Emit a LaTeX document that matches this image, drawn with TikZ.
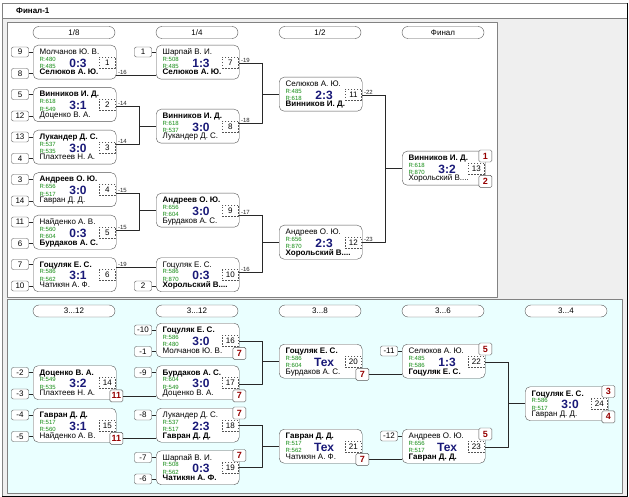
\documentclass[tikz,border=0pt]{standalone}
\usepackage{fontspec}
\setmainfont{Liberation Sans}
\usetikzlibrary{calc,positioning}
\definecolor{bordc}{RGB}{85,85,85}
\definecolor{framec}{RGB}{130,130,130}
\definecolor{linec}{RGB}{40,40,40}
\definecolor{bgc}{RGB}{239,239,239}
\definecolor{cyanc}{RGB}{234,255,255}
\definecolor{rtgc}{RGB}{20,140,20}
\definecolor{navyc}{RGB}{25,25,120}
\definecolor{redc}{RGB}{150,0,0}
% match box: number, x, y, top player, bottom player, two ratings, score
\newcommand\mtch[8]{%
  \node[mbox] (m#1) at (#2,#3) {};
  \node[pname] (m#1a) at ($(m#1.north west)+(6.5,9.5)$) {#4};
  \node[rtg] (m#1r) at ($(m#1.north west)+(6.5,14)$) {R:#6};
  \node[rtg] (m#1s) at ($(m#1.north west)+(6.5,21.5)$) {R:#7};
  \node[score] (m#1c) at ($(m#1.north west)+(45,18)$) {#8};
  \node[pname] (m#1b) at ($(m#1.north west)+(6.5,30)$) {#5};
  \node[numbox] (n#1) at ($(m#1.north east)+(-9,17.5)$) {#1};}
% seeds at the left of a box
\newcommand\seedt[2]{%
  \node[seed] (s#1t) at ($(m#1.north west)+(-13,7)$) {#2};
  \draw[conn] (s#1t.east) -- (s#1t.east -| m#1.west);}
\newcommand\seedb[2]{%
  \node[seed] (s#1b) at ($(m#1.north west)+(-13,28.5)$) {#2};
  \draw[conn] (s#1b.east) -- (s#1b.east -| m#1.west);}
% places at the right of a box
\newcommand\plct[2]{\node[plc] (p#1t) at ($(m#1.north east)+(0,5)$) {#2};}
\newcommand\plcb[2]{\node[plc] (p#1b) at ($(m#1.south east)+(0,-4)$) {#2};}
% two boxes into the next one
\newcommand\fork[5]{%
  \draw[conn] ($(m#1.north east)+(0,#2)$) -- ++(23,0) |- ($(m#3.north east)+(0,#4)$);
  \draw[conn] ($(m#1.north east)+(23,#2)$) |- (m#5.west);}
\begin{document}
\begin{tikzpicture}[x=1pt,y=-1pt,line join=round,
  mbox/.style={draw=bordc,fill=white,rounded corners=5pt,minimum width=83pt,minimum height=34pt,anchor=north west,inner sep=0pt},
  pname/.style={anchor=base west,inner sep=0pt,font=\fontsize{8}{8}\selectfont},
  rtg/.style={anchor=west,inner sep=0pt,text=rtgc,font=\fontsize{6}{6}\selectfont},
  score/.style={inner sep=0pt,text=navyc,font=\fontsize{12}{12}\selectfont\bfseries},
  numbox/.style={draw=bordc,dashed,dash pattern=on 1.5pt off 1.5pt,fill=white,minimum width=16pt,minimum height=11pt,inner sep=0pt,font=\fontsize{8}{8}\selectfont},
  seed/.style={draw=bordc,fill=white,rounded corners=2pt,minimum width=17pt,minimum height=10pt,inner sep=0pt,font=\fontsize{8}{8}\selectfont},
  plc/.style={draw=bordc,fill=white,rounded corners=1.5pt,minimum width=13pt,minimum height=12pt,inner sep=0pt,text=redc,font=\fontsize{9}{9}\selectfont\bfseries},
  pill/.style={draw=bordc,fill=white,rounded corners=6pt,minimum width=82pt,minimum height=12pt,inner sep=0pt,font=\fontsize{8}{8}\selectfont},
  conn/.style={draw=linec,line width=0.7pt},
  outc/.style={anchor=south west,inner sep=0.5pt,text=linec,font=\fontsize{6}{6}\selectfont}]
\useasboundingbox (0,0) rectangle (629,497);
% frame
\fill[bgc] (2,3) rectangle (627,496);
\fill[white] (2,3) rectangle (627,18);
\draw[framec] (2,18) -- (627,18);
\draw[framec] (2,496) -- (2,3) -- (627,3);
\draw[black] (627,3) -- (627,496) -- (2,496);
\node[anchor=west,inner sep=0pt,font=\fontsize{8}{8}\selectfont\bfseries] (ttl) at (16,11) {Финал-1};
\draw[framec,fill=white] (7,22) rectangle (497,297);
\draw[framec,fill=cyanc] (7,299) rectangle (622,493);
% round titles
\node[pill] (h1) at (74,32.5) {1/8};
\node[pill] (h2) at (197,32.5) {1/4};
\node[pill] (h3) at (320,32.5) {1/2};
\node[pill] (h4) at (443,32.5) {Финал};
\node[pill] (k1) at (74,311) {3...12};
\node[pill] (k2) at (197,311) {3...12};
\node[pill] (k3) at (320,311) {3...8};
\node[pill] (k4) at (443,311) {3...6};
\node[pill] (k5) at (566,311) {3...4};
% main bracket
\mtch{1}{33}{45}{Молчанов Ю. В.}{\textbf{Селюков А. Ю.}}{480}{485}{0:3}
\mtch{2}{33}{87.5}{\textbf{Винников И. Д.}}{Доценко В. А.}{618}{549}{3:1}
\mtch{3}{33}{130}{\textbf{Лукандер Д. С.}}{Плахтеев Н. А.}{537}{535}{3:0}
\mtch{4}{33}{172.5}{\textbf{Андреев О. Ю.}}{Гавран Д. Д.}{656}{517}{3:0}
\mtch{5}{33}{215}{Найденко А. В.}{\textbf{Бурдаков А. С.}}{560}{604}{0:3}
\mtch{6}{33}{257.5}{\textbf{Гоцуляк Е. С.}}{Чатикян А. Ф.}{586}{562}{3:1}
\mtch{7}{156}{45}{Шарпай В. И.}{\textbf{Селюков А. Ю.}}{508}{485}{1:3}
\mtch{8}{156}{109}{\textbf{Винников И. Д.}}{Лукандер Д. С.}{618}{537}{3:0}
\mtch{9}{156}{193}{\textbf{Андреев О. Ю.}}{Бурдаков А. С.}{656}{604}{3:0}
\mtch{10}{156}{257.5}{Гоцуляк Е. С.}{\textbf{Хорольский В....}}{586}{870}{0:3}
\mtch{11}{279}{77}{Селюков А. Ю.}{\textbf{Винников И. Д.}}{485}{618}{2:3}
\mtch{12}{279}{225}{Андреев О. Ю.}{\textbf{Хорольский В....}}{656}{870}{2:3}
\mtch{13}{402}{151}{\textbf{Винников И. Д.}}{Хорольский В....}{618}{870}{3:2}
\seedt{1}{9} \seedb{1}{8}
\seedt{2}{5} \seedb{2}{12}
\seedt{3}{13} \seedb{3}{4}
\seedt{4}{3} \seedb{4}{14}
\seedt{5}{11} \seedb{5}{6}
\seedt{6}{7} \seedb{6}{10}
\seedt{7}{1} \seedb{10}{2}
\plct{13}{1} \plcb{13}{2}
\draw[conn] ($(m1.north east)+(0,30)$) -- ($(m7.north west)+(0,30)$);
\draw[conn] ($(m6.north east)+(0,9.5)$) -- ($(m10.north west)+(0,9.5)$);
\fork{2}{18.5}{3}{14}{8}
\fork{4}{21}{5}{15}{9}
\fork{7}{18}{8}{14}{11}
\fork{9}{22}{10}{14.5}{12}
\fork{11}{18}{12}{17}{13}
\node[outc] (o1) at ($(m1.north east)+(1,30)$) {-16};
\node[outc] (o2) at ($(m2.north east)+(1,18.5)$) {-14};
\node[outc] (o3) at ($(m3.north east)+(1,14)$) {-14};
\node[outc] (o4) at ($(m4.north east)+(1,21)$) {-15};
\node[outc] (o5) at ($(m5.north east)+(1,15)$) {-15};
\node[outc] (o6) at ($(m6.north east)+(1,9.5)$) {-19};
\node[outc] (o7) at ($(m7.north east)+(1,18)$) {-19};
\node[outc] (o8) at ($(m8.north east)+(1,14)$) {-18};
\node[outc] (o9) at ($(m9.north east)+(1,22)$) {-17};
\node[outc] (o10) at ($(m10.north east)+(1,14.5)$) {-16};
\node[outc] (o11) at ($(m11.north east)+(1,18)$) {-22};
\node[outc] (o12) at ($(m12.north east)+(1,17)$) {-23};
% places 3-12
\mtch{14}{33}{365.5}{\textbf{Доценко В. А.}}{Плахтеев Н. А.}{549}{535}{3:2}
\mtch{15}{33}{408}{\textbf{Гавран Д. Д.}}{Найденко А. В.}{517}{560}{3:1}
\mtch{16}{156}{323}{\textbf{Гоцуляк Е. С.}}{Молчанов Ю. В.}{586}{480}{3:0}
\mtch{17}{156}{365.5}{\textbf{Бурдаков А. С.}}{Доценко В. А.}{604}{549}{3:0}
\mtch{18}{156}{408}{Лукандер Д. С.}{\textbf{Гавран Д. Д.}}{537}{517}{2:3}
\mtch{19}{156}{450.5}{Шарпай В. И.}{\textbf{Чатикян А. Ф.}}{508}{562}{0:3}
\mtch{20}{279}{344}{\textbf{Гоцуляк Е. С.}}{Бурдаков А. С.}{586}{604}{Тех}
\mtch{21}{279}{429}{\textbf{Гавран Д. Д.}}{Чатикян А. Ф.}{517}{562}{Тех}
\mtch{22}{402}{344}{Селюков А. Ю.}{\textbf{Гоцуляк Е. С.}}{485}{586}{1:3}
\mtch{23}{402}{429}{Андреев О. Ю.}{\textbf{Гавран Д. Д.}}{656}{517}{Тех}
\mtch{24}{525}{386.5}{\textbf{Гоцуляк Е. С.}}{Гавран Д. Д.}{586}{517}{3:0}
\seedt{14}{-2} \seedb{14}{-3}
\seedt{15}{-4} \seedb{15}{-5}
\seedt{16}{-10} \seedb{16}{-1}
\seedt{17}{-9} \seedt{18}{-8}
\seedt{19}{-7} \seedb{19}{-6}
\seedt{22}{-11} \seedt{23}{-12}
\plcb{14}{11} \plcb{15}{11}
\plcb{16}{7} \plcb{17}{7} \plct{18}{7} \plct{19}{7}
\plcb{20}{7} \plcb{21}{7}
\plct{22}{5} \plct{23}{5}
\plct{24}{3} \plcb{24}{4}
\draw[conn] (p14b.east) -- (p14b.east -| m17.west);
\draw[conn] (p15b.east) -- (p15b.east -| m18.west);
\draw[conn] (p20b.east) -- (p20b.east -| m22.west);
\draw[conn] (p21b.east) -- (p21b.east -| m23.west);
\fork{16}{18}{17}{18.5}{20}
\fork{18}{17}{19}{17}{21}
\fork{22}{18}{23}{18}{24}
\end{tikzpicture}
\end{document}
